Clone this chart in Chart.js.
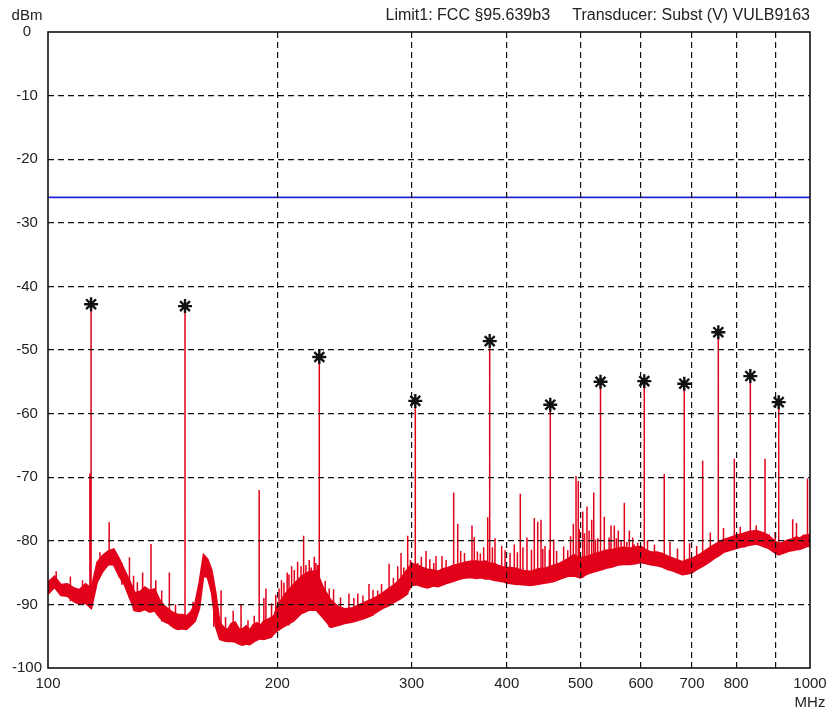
<!DOCTYPE html>
<html>
<head>
<meta charset="utf-8">
<script src="https://cdn.jsdelivr.net/npm/chart.js@4.4.1/dist/chart.umd.min.js"></script>
<style>
    html, body { margin: 0; padding: 0; background: #fff; }
    #wrap { width: 831px; height: 713px; }
</style>
</head>
<body>
<div id="wrap"><canvas id="spectrum" width="831" height="713"></canvas></div>
<script>
// axis ticks and texts
const xTicks = [100, 200, 300, 400, 500, 600, 700, 800, 900, 1000];
const xTickLabels = ['100', '200', '300', '400', '500', '600', '700', '800', '', '1000'];
const yTicks = [0, -10, -20, -30, -40, -50, -60, -70, -80, -90, -100];
const headerText = 'Limit1: FCC §95.639b3     Transducer: Subst (V) VULB9163';
const yUnit = 'dBm';
const xUnit = 'MHz';

// limit line (dBm)
const limitFreqs = [100, 1000];
const limitLevels = [-26, -26];

// noise floor, upper and lower edge of the red trace (MHz / dBm)
const bandFreqs = [
    100, 102, 104, 106, 108, 110, 112, 114, 116, 118,
    120, 122, 124, 126, 128, 130, 132, 134, 136, 138,
    140, 142, 144, 146, 148, 150, 152, 154, 156, 158,
    160, 162, 164, 166, 168, 170, 172, 174, 176, 178,
    180, 182, 184, 186, 188, 190, 192, 194, 196, 198,
    200,
    205, 210, 215, 220, 225, 230, 235, 240, 245, 250,
    255, 260, 265, 270, 275, 280, 285, 290, 295, 300,
    305, 310, 315, 320, 325, 330, 335, 340, 345, 350,
    355, 360, 365, 370, 375, 380, 385, 390, 395, 400,
    410, 420, 430, 440, 450, 460, 470, 480, 490, 500,
    510, 520, 530, 540, 550, 560, 570, 580, 590, 600,
    610, 620, 630, 640, 650, 660, 670, 680, 690, 700,
    710, 720, 730, 740, 750, 760, 770, 780, 790, 800,
    810, 820, 830, 840, 850, 860, 870, 880, 890, 900,
    910, 920, 930, 940, 950, 960, 970, 980, 990, 1000
];
const bandTop = [
    -86.5, -85.6, -86.9, -86.8, -87.4, -87.7, -86.8, -87.5, -83.4, -82.3,
    -81.6, -81.3, -82.8, -84.6, -86.3, -88.2, -88.0, -87.3, -87.8, -87.6,
    -89.2, -90.2, -90.8, -91.3, -91.6, -91.6, -91.8, -91.2, -89.8, -86.5,
    -82.2, -82.9, -84.6, -88.2, -92.8, -93.6, -94.0, -93.0, -92.8, -93.8,
    -93.9, -93.4, -94.0, -93.2, -92.9, -93.3, -92.6, -92.4, -92.1, -91.8,
    -90.2,
    -88.3, -86.9, -85.6, -84.9, -84.7, -87.5, -89.3, -90.3, -90.7, -90.6,
    -90.2, -89.7, -89.3, -88.8, -88.2, -87.5, -86.9, -86.0, -84.8, -83.6,
    -83.8, -84.2, -84.5, -84.6, -84.8, -84.4, -84.2, -83.9, -83.7, -83.5,
    -83.3, -83.2, -83.2, -83.3, -83.2, -83.5, -83.6, -83.9, -84.1, -84.2,
    -84.3, -84.7, -84.8, -84.4, -84.3, -83.9, -83.5, -82.9, -82.2, -82.7,
    -82.5, -82.1, -81.8, -81.5, -81.4, -81.2, -81.0, -81.2, -81.0, -80.9,
    -81.5, -81.8, -81.8, -82.0, -82.4, -82.7, -83.0, -83.3, -83.0, -82.8,
    -82.4, -82.0, -81.5, -81.0, -80.6, -80.2, -79.8, -79.6, -79.4, -79.1,
    -79.0, -78.8, -78.6, -78.5, -78.4, -78.6, -78.8, -79.1, -79.6, -80.1,
    -80.4, -80.3, -80.0, -79.8, -79.7, -79.4, -79.6, -79.2, -79.1, -79.0
];
const bandBottom = [
    -88.4, -87.3, -88.6, -88.7, -89.5, -90.0, -89.8, -90.6, -86.5, -84.8,
    -83.7, -83.8, -85.6, -86.9, -89.0, -91.0, -91.1, -90.8, -91.2, -91.0,
    -92.0, -92.7, -93.0, -93.6, -93.9, -93.8, -93.9, -93.3, -92.6, -90.6,
    -85.5, -85.8, -88.2, -93.5, -95.5, -95.7, -95.8, -95.8, -95.9, -96.2,
    -96.4, -96.2, -96.3, -95.9, -95.6, -95.4, -95.5, -95.3, -95.2, -94.6,
    -94.1,
    -93.3, -92.6, -91.4, -90.9, -90.9, -92.2, -93.6, -93.3, -93.0, -92.8,
    -92.5, -92.2, -91.8, -91.2, -90.6, -90.2, -89.6, -89.1, -88.5, -87.0,
    -86.9, -87.2, -87.4, -87.1, -87.2, -86.9, -86.6, -86.4, -86.1, -85.9,
    -85.8, -85.8, -85.9, -85.8, -86.0, -86.0, -86.2, -86.3, -86.4, -86.6,
    -86.8, -86.9, -87.0, -86.8, -86.6, -86.4, -86.0, -85.6, -85.5, -85.8,
    -85.2, -84.9, -84.6, -84.3, -84.1, -83.8, -83.7, -83.7, -83.6, -83.4,
    -83.6, -83.8, -83.9, -84.1, -84.5, -84.7, -85.0, -85.3, -85.2, -85.0,
    -84.5, -84.1, -83.7, -83.2, -82.7, -82.3, -81.8, -81.6, -81.4, -81.2,
    -81.0, -80.9, -80.7, -80.6, -80.5, -80.7, -80.9, -81.1, -81.5, -81.9,
    -82.2, -82.0, -81.8, -81.6, -81.5, -81.4, -81.3, -81.1, -80.9, -80.8
];

// narrow carriers rising out of the noise floor
const spikeFreqs = [
    113.5, 120.3, 127.9, 131.0, 133.1, 136.5, 144.3, 165.0, 168.7, 179.2,
    189.3, 192.0, 193.2, 204.0, 207.1, 208.8, 212.6, 214.8, 216.5, 220.2,
    223.6, 224.7, 231.1, 233.9, 248.3, 255.0, 263.8, 270.8, 280.3, 287.7,
    290.6, 296.5, 305.6, 313.4, 320.8, 328.9, 340.7, 344.9, 360.1, 362.6,
    369.3, 377.6, 386.0, 393.9, 409.2, 416.7, 425.2, 434.7, 439.2, 443.6,
    449.0, 460.9, 480.9, 489.1, 493.1, 496.5, 503.2, 509.7, 517.0, 520.2,
    526.5, 537.1, 548.1, 553.6, 560.3, 570.6, 579.3, 585.2, 594.1, 643.8,
    723.0, 795.6, 872.9, 884.3, 949.0, 992.5
];
const spikeLevels = [
    -69.4, -77.1, -82.6, -86.5, -85.0, -80.5, -85.0, -88.0, -87.8, -90.0,
    -72.0, -89.0, -87.5, -86.6, -85.3, -84.0, -83.3, -84.0, -79.2, -83.0,
    -82.5, -83.5, -86.3, -87.5, -88.3, -88.3, -86.8, -87.8, -83.6, -84.0,
    -81.9, -79.2, -83.5, -81.6, -83.5, -82.4, -72.4, -77.3, -77.6, -79.4,
    -82.0, -76.3, -79.6, -80.8, -80.6, -72.6, -79.5, -76.4, -77.0, -76.7,
    -80.8, -79.8, -81.5, -77.3, -69.8, -70.6, -75.4, -74.6, -76.7, -72.4,
    -79.6, -76.2, -77.6, -77.6, -78.4, -74.0, -78.4, -79.5, -80.3, -69.5,
    -67.4, -67.1, -67.1, -79.0, -76.6, -70.2
];

// short noise peaks just above the floor
const grassFreqs = [
    102.5, 107.0, 111.0, 117.0, 125.0, 129.5, 138.5, 141.0, 147.0, 155.0,
    171.0, 175.0, 183.0, 186.5, 196.5, 199.0, 201.0, 202.5, 206.0, 210.5,
    218.0, 221.5, 226.0, 237.0, 242.0, 252.0, 259.0, 267.0, 274.0, 284.0,
    293.0, 299.0, 309.0, 317.0, 323.0, 333.0, 348.0, 352.0, 366.0, 373.0,
    383.0, 398.0, 404.0, 413.0, 420.0, 431.0, 446.0, 455.0, 465.0, 475.0,
    485.0, 498.0, 506.0, 513.0, 523.0, 545.0, 557.0, 565.0, 575.0, 588.0,
    612.0, 625.0, 655.0, 670.0, 695.0, 710.0, 740.0, 770.0, 810.0, 850.0,
    900.0, 960.0
];
const grassLevels = [
    -84.8, -85.6, -86.2, -81.8, -83.5, -85.5, -86.2, -87.8, -90.0, -89.6,
    -92.0, -91.0, -92.5, -91.8, -89.8, -88.5, -87.5, -86.2, -85.0, -84.6,
    -83.8, -84.2, -83.8, -87.6, -88.9, -89.0, -88.6, -87.7, -86.8, -85.8,
    -84.2, -83.0, -82.5, -82.9, -82.4, -83.0, -81.6, -81.9, -81.7, -81.0,
    -81.0, -81.5, -81.9, -81.8, -81.0, -81.4, -81.3, -81.4, -81.6, -80.9,
    -79.3, -78.2, -78.8, -78.4, -79.8, -79.5, -79.6, -79.9, -80.2, -80.6,
    -79.9, -80.6, -80.2, -81.2, -80.4, -80.8, -78.7, -78.0, -77.8, -77.6,
    -78.6, -77.2
];

// marked peaks (asterisks)
const peakFreqs = [113.9, 151.3, 227.0, 303.4, 379.9, 456.2, 531.0, 606.1, 683.9, 758.0, 835.0, 909.8];
const peakLevels = [-42.8, -43.1, -51.1, -58.0, -48.6, -58.6, -55.0, -54.9, -55.3, -47.2, -54.1, -58.2];

const RED = '#e2001a';
const BLUE = 'rgb(35, 35, 225)';
const INK = '#111';
const FONT = '"Liberation Sans", Arial, sans-serif';

function floorAt(f) {
    let best = 0;
    for (let i = 1; i < bandFreqs.length; i++) {
        if (Math.abs(Math.log(bandFreqs[i] / f)) < Math.abs(Math.log(bandFreqs[best] / f))) best = i;
    }
    return bandBottom[best];
}

// vertical lines: floor -> level, then a gap
const allFreqs = spikeFreqs.concat(grassFreqs, peakFreqs);
const allLevels = spikeLevels.concat(grassLevels, peakLevels);
const spikePoints = [];
allFreqs.forEach((f, i) => {
    spikePoints.push({x: f, y: floorAt(f)}, {x: f, y: allLevels[i]}, {x: f, y: null});
});

const framePlugin = {
    id: 'frame',
    afterDraw(chart) {
        const {ctx, chartArea: a} = chart;
        ctx.save();
        ctx.strokeStyle = INK;
        ctx.lineWidth = 1.6;
        ctx.strokeRect(a.left, a.top, a.right - a.left, a.bottom - a.top);
        ctx.fillStyle = '#222';
        ctx.font = '15px ' + FONT;
        ctx.textAlign = 'center';
        ctx.textBaseline = 'middle';
        ctx.fillText(yUnit, 27, 16);
        ctx.restore();
    }
};

new Chart(document.getElementById('spectrum'), {
    type: 'line',
    data: {
        datasets: [
            {
                data: bandFreqs.map((f, i) => ({x: f, y: bandBottom[i]})),
                borderColor: RED,
                borderWidth: 1.8,
                pointRadius: 0,
                order: 4
            },
            {
                data: bandFreqs.map((f, i) => ({x: f, y: bandTop[i]})),
                borderColor: RED,
                backgroundColor: RED,
                borderWidth: 1.8,
                pointRadius: 0,
                fill: 0,
                order: 3
            },
            {
                data: spikePoints,
                borderColor: RED,
                borderWidth: 1.5,
                pointRadius: 0,
                spanGaps: false,
                order: 2
            },
            {
                data: limitFreqs.map((f, i) => ({x: f, y: limitLevels[i]})),
                borderColor: BLUE,
                borderWidth: 1.8,
                pointRadius: 0,
                order: 1
            },
            {
                data: peakFreqs.map((f, i) => ({x: f, y: peakLevels[i]})),
                showLine: false,
                pointStyle: 'star',
                pointRadius: 7,
                pointBorderColor: INK,
                pointBorderWidth: 2.4,
                order: 0
            }
        ]
    },
    options: {
        responsive: false,
        animation: false,
        layout: {padding: {left: 0, right: 21, top: 0, bottom: 0}},
        plugins: {
            legend: {display: false},
            tooltip: {enabled: false},
            title: {
                display: true,
                text: headerText,
                align: 'end',
                color: '#222',
                font: {family: FONT, size: 16, weight: 'normal'},
                padding: {top: 6, bottom: 6.8}
            }
        },
        scales: {
            x: {
                type: 'logarithmic',
                min: 100,
                max: 1000,
                afterBuildTicks: s => { s.ticks = xTicks.map(v => ({value: v})); },
                afterFit: s => { s.height = 45; s.paddingLeft = 0; s.paddingRight = 0; },
                ticks: {
                    autoSkip: false,
                    maxRotation: 0,
                    padding: 6,
                    color: '#222',
                    font: {family: FONT, size: 15, lineHeight: 1.3},
                    callback: (v, i) => i === xTicks.length - 1 ? [xTickLabels[i], xUnit] : xTickLabels[i]
                },
                grid: {
                    z: 1,
                    drawTicks: false,
                    lineWidth: 1.2,
                    color: c => (c.tick && (c.tick.value === 100 || c.tick.value === 1000)) ? 'rgba(0,0,0,0)' : INK
                },
                border: {display: false, dash: [6, 4]}
            },
            y: {
                min: -100,
                max: 0,
                afterBuildTicks: s => { s.ticks = yTicks.map(v => ({value: v})); },
                afterFit: s => { s.width = 48; },
                ticks: {
                    padding: 6,
                    crossAlign: 'center',
                    color: '#222',
                    font: {family: FONT, size: 15},
                    callback: v => String(v)
                },
                grid: {
                    z: 1,
                    drawTicks: false,
                    lineWidth: 1.2,
                    color: c => (c.tick && (c.tick.value === 0 || c.tick.value === -100)) ? 'rgba(0,0,0,0)' : INK
                },
                border: {display: false, dash: [6, 4]}
            }
        }
    },
    plugins: [framePlugin]
});
</script>
</body>
</html>
